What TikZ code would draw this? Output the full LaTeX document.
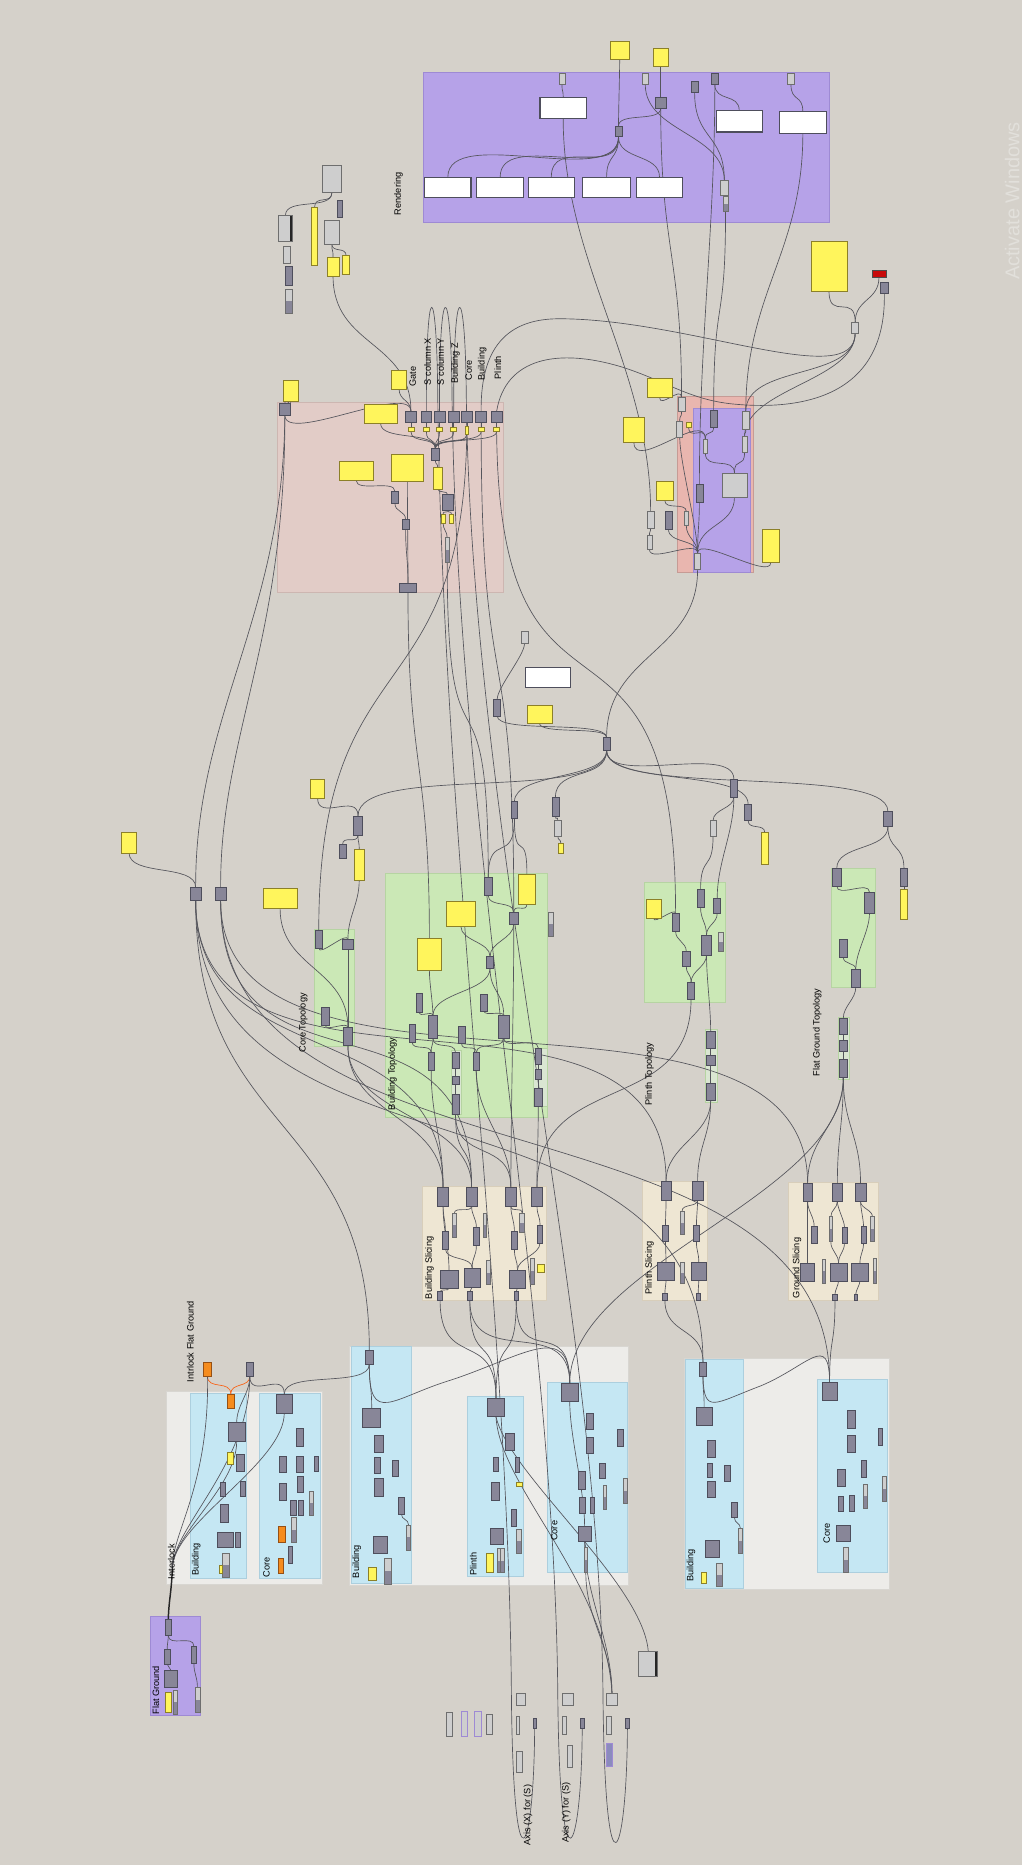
\documentclass[tikz,border=0pt]{standalone}
\usepackage{fontspec}
\setmainfont{Liberation Sans}
\definecolor{bgc}{RGB}{213,209,202}
\definecolor{cpc}{RGB}{136,134,152}
\definecolor{cpd}{RGB}{78,78,92}
\definecolor{ltc}{RGB}{206,206,206}
\definecolor{ltd}{RGB}{110,110,110}
\definecolor{ylc}{RGB}{255,245,92}
\definecolor{yld}{RGB}{140,128,40}
\definecolor{ogc}{RGB}{245,140,30}
\definecolor{ogd}{RGB}{150,80,20}
\definecolor{rdc}{RGB}{200,10,10}
\definecolor{gpu}{RGB}{182,162,232}
\definecolor{gpud}{RGB}{158,138,212}
\definecolor{gpk}{RGB}{226,204,199}
\definecolor{gpkd}{RGB}{205,182,177}
\definecolor{gsa}{RGB}{233,182,175}
\definecolor{ggr}{RGB}{203,232,182}
\definecolor{ggrd}{RGB}{182,212,162}
\definecolor{gsub}{RGB}{218,230,210}
\definecolor{gtn}{RGB}{238,230,211}
\definecolor{gtnd}{RGB}{216,206,186}
\definecolor{gbl}{RGB}{197,231,243}
\definecolor{gbld}{RGB}{172,207,222}
\definecolor{gow}{RGB}{237,236,233}
\definecolor{gowd}{RGB}{216,214,209}
\definecolor{wrc}{RGB}{85,85,92}
\definecolor{wmk}{RGB}{226,224,219}
\definecolor{pbx}{RGB}{90,90,160}
\pgfdeclarelayer{bglayer}
\pgfdeclarelayer{wrlayer}
\pgfsetlayers{bglayer,wrlayer,main}
\newcommand\gbox[6]{\node[#1,minimum width={((#5)-(#3))*0.8923pt},minimum height={((#6)-(#4))*0.8923pt}] (#2) at ({((#3)+(#5))/2},{((#4)+(#6))/2}) {};}
\newcommand\gsld[5]{\node[lt,minimum width={((#4)-(#2))*0.8923pt},minimum height={((#5)-(#3))*0.8923pt},path picture={\fill[cpc] (path picture bounding box.south west) rectangle (path picture bounding box.east);}] (#1) at ({((#2)+(#4))/2},{((#3)+(#5))/2}) {};}
\newcommand\gw[3][25]{\draw[wire] (#2) .. controls +(0,#1) and +(0,-#1) .. (#3);}
\begin{document}
\begin{tikzpicture}[x=0.8923pt,y=-0.8923pt,
 gbase/.style={rectangle,inner sep=0pt,outer sep=0pt,line width=0.45pt},
 cp/.style={gbase,draw=cpd,fill=cpc},
 lt/.style={gbase,draw=ltd,fill=ltc},
 yl/.style={gbase,draw=yld,fill=ylc},
 og/.style={gbase,draw=ogd,fill=ogc},
 rdn/.style={gbase,draw=black!70,fill=rdc},
 wb/.style={gbase,draw=cpd,fill=white,line width=0.8pt},
 pu/.style={gbase,draw=gpud,fill=ltc,line width=0.7pt},
 pud/.style={gbase,draw=gpud,fill=pbx!70,line width=0.7pt},
 blk/.style={path picture={\fill[black!85] ([xshift=-2.2pt]path picture bounding box.north east) rectangle (path picture bounding box.south east);}},
 wire/.style={draw=wrc,line width=0.5pt},
 owire/.style={draw=ogc!70!red,line width=0.5pt},
 lbl/.style={rotate=90,font=\fontsize{6.9}{8}\selectfont,inner sep=0pt,text=black},
 lblw/.style={lbl,anchor=west}]
\useasboundingbox (0,0) rectangle (859,1568);
\begin{pgfonlayer}{bglayer}
\fill[bgc] (0,0) rectangle (859,1568);
\filldraw[fill=gpu,draw=gpud] (356,61) rectangle (697,187);
\filldraw[fill=gpk,draw=gpkd] (233,338) rectangle (423,498);
\filldraw[fill=gsa,draw=gsa!85!black] (569,333) rectangle (633,481);
\filldraw[fill=gpu,draw=gpud] (583,343) rectangle (631,481);
\filldraw[fill=ggr,draw=ggrd] (264,781) rectangle (298,880);
\filldraw[fill=ggr,draw=ggrd] (324,734) rectangle (460,939);
\filldraw[fill=gsub,draw=ggrd] (379,883) rectangle (388,937);
\filldraw[fill=gsub,draw=ggrd] (448,881) rectangle (460,930);
\filldraw[fill=ggr,draw=ggrd] (542,742) rectangle (610,843);
\filldraw[fill=gsub,draw=ggrd] (593,865) rectangle (603,927);
\filldraw[fill=ggr,draw=ggrd] (699,730) rectangle (736,830);
\filldraw[fill=gsub,draw=ggrd] (705,855) rectangle (714,907);
\filldraw[fill=gtn,draw=gtnd] (355,997) rectangle (459,1093);
\filldraw[fill=gtn,draw=gtnd] (540,993) rectangle (595,1093);
\filldraw[fill=gtn,draw=gtnd] (663,994) rectangle (738,1093);
\filldraw[fill=gow,draw=gowd] (140,1170) rectangle (271,1332);
\filldraw[fill=gbl,draw=gbld] (160,1171) rectangle (207,1327);
\filldraw[fill=gbl,draw=gbld] (218,1171) rectangle (269,1327);
\filldraw[fill=gow,draw=gowd] (294,1132) rectangle (528,1333);
\filldraw[fill=gbl,draw=gbld] (295,1132) rectangle (346,1331);
\filldraw[fill=gbl,draw=gbld] (393,1174) rectangle (440,1325);
\filldraw[fill=gbl,draw=gbld] (460,1162) rectangle (527,1322);
\filldraw[fill=gow,draw=gowd] (575,1142) rectangle (748,1336);
\filldraw[fill=gbl,draw=gbld] (576,1143) rectangle (625,1335);
\filldraw[fill=gbl,draw=gbld] (687,1160) rectangle (746,1322);
\filldraw[fill=gpu,draw=gpud] (126,1359) rectangle (168,1442);
\end{pgfonlayer}
% ---------- Rendering
\gbox{wb}{R1}{357}{149}{396}{166}
\gbox{wb}{R2}{401}{149}{440}{166}
\gbox{wb}{R3}{444}{149}{483}{166}
\gbox{wb}{R4}{490}{149}{530}{166}
\gbox{wb}{R5}{535}{149}{574}{166}
\gbox{wb}{R6}{454}{82}{493}{100}
\gbox{wb}{R7}{602}{93}{641}{111}
\gbox{wb}{R8}{655}{94}{695}{112}
\gbox{lt}{ra}{470}{62}{475}{71}
\gbox{lt}{rb}{540}{62}{545}{71}
\gbox{cp}{rc}{581}{68}{587}{78}
\gbox{cp}{rd}{598}{62}{604}{71}
\gbox{lt}{re}{662}{62}{668}{71}
\gbox{cp}{rf}{551}{82}{560}{91}
\gbox{cp}{rg}{517}{106}{523}{115}
\gbox{lt}{rh}{606}{152}{612}{164}
\gsld{ri}{608}{165}{612}{178}
\gbox{yl}{Y1}{513}{35}{529}{50}
\gbox{yl}{Y2}{549}{41}{562}{56}
% ---------- top-left cluster
\gbox{lt}{t1}{271}{139}{287}{162}
\gbox{cp}{t2}{284}{168}{288}{183}
\gbox{lt,blk}{t3}{234}{181}{246}{203}
\gbox{lt}{t4}{238}{207}{244}{221}
\gbox{cp}{t5}{240}{224}{246}{240}
\gsld{t6}{240}{243}{246}{263}
\gbox{yl}{t7}{262}{174}{267}{223}
\gbox{lt}{t8}{273}{185}{285}{205}
\gbox{yl}{tY1}{275}{216}{285}{232}
\gbox{yl}{tY2}{288}{215}{294}{231}
% ---------- pink group
\gbox{yl}{pY0}{238}{320}{251}{337}
\gbox{cp}{p0}{235}{339}{244}{349}
\gbox{yl}{pY1}{306}{340}{334}{356}
\gbox{yl}{pY2}{329}{311}{342}{327}
\gbox{cp}{pg}{341}{346}{350}{355}
\gbox{cp}{psx}{354}{346}{363}{355}
\gbox{cp}{psy}{365}{346}{374}{355}
\gbox{cp}{pbz}{377}{346}{386}{355}
\gbox{cp}{pco}{388}{346}{397}{355}
\gbox{cp}{pbu}{400}{346}{409}{355}
\gbox{cp}{ppl}{413}{346}{422}{355}
\gbox{yl}{pgy}{343}{359}{348}{363}
\gbox{yl}{psxy}{356}{359}{361}{363}
\gbox{yl}{psyy}{367}{359}{372}{363}
\gbox{yl}{pbzy}{379}{359}{384}{363}
\gbox{yl}{pcoy}{391}{358}{394}{365}
\gbox{yl}{pbuy}{402}{359}{407}{363}
\gbox{yl}{pply}{415}{359}{420}{363}
\gbox{cp}{pm}{363}{377}{369}{387}
\gbox{yl}{pY3}{364}{393}{372}{411}
\gbox{yl}{pY4}{329}{382}{356}{405}
\gbox{yl}{pY5}{285}{388}{314}{404}
\gbox{cp}{pa}{329}{413}{335}{423}
\gbox{cp}{pb}{338}{437}{344}{445}
\gbox{cp}{pc}{336}{490}{350}{498}
\gbox{cp}{pd}{372}{416}{381}{429}
\gbox{yl}{pe1}{371}{432}{374}{440}
\gbox{yl}{pe2}{378}{432}{381}{440}
\gsld{pf}{374}{452}{378}{473}
% ---------- right pink/purple group
\gbox{yl}{qY1}{682}{203}{712}{245}
\gbox{rdn}{qR}{733}{227}{745}{233}
\gbox{cp}{qD}{740}{237}{747}{247}
\gbox{lt}{qL}{716}{271}{722}{280}
\gbox{yl}{qY2}{544}{318}{565}{334}
\gbox{lt}{q1}{570}{334}{576}{346}
\gbox{lt}{q2}{569}{354}{574}{368}
\gbox{yl}{q3}{577}{355}{581}{359}
\gbox{cp}{q4}{597}{345}{603}{359}
\gbox{lt}{q5}{624}{346}{630}{361}
\gbox{lt}{q6}{591}{369}{595}{381}
\gbox{lt}{q7}{624}{367}{628}{380}
\gbox{lt}{q8}{607}{398}{628}{418}
\gbox{yl}{qY3}{524}{351}{542}{372}
\gbox{yl}{qY4}{552}{405}{566}{421}
\gbox{cp}{q9}{585}{407}{591}{422}
\gbox{lt}{q10}{544}{430}{550}{444}
\gbox{cp}{q11}{559}{430}{565}{445}
\gbox{lt}{q12}{575}{430}{579}{442}
\gbox{lt}{q13}{544}{450}{548}{462}
\gbox{lt}{q14}{584}{465}{589}{479}
\gbox{yl}{qY5}{641}{445}{655}{473}
% ---------- middle
\gbox{lt}{m1}{438}{531}{444}{541}
\gbox{wb}{m2}{442}{561}{480}{578}
\gbox{yl}{m3}{443}{593}{464}{608}
\gbox{cp}{m4}{415}{588}{421}{602}
\gbox{cp}{H}{507}{620}{513}{631}
\gbox{cp}{m5}{614}{655}{620}{670}
\gbox{cp}{m6}{464}{670}{470}{686}
\gbox{lt}{m7}{466}{690}{472}{703}
\gbox{yl}{m8}{469}{709}{474}{717}
\gbox{cp}{m9}{430}{674}{435}{688}
\gbox{lt}{m10}{597}{690}{602}{703}
\gbox{cp}{m11}{626}{676}{632}{690}
\gbox{yl}{m12}{640}{700}{646}{727}
\gbox{cp}{m13}{743}{682}{750}{695}
\gbox{cp}{m14}{757}{730}{763}{745}
\gbox{yl}{m15}{757}{748}{763}{773}
\gbox{yl}{m16}{261}{655}{273}{671}
\gbox{cp}{m17}{297}{686}{305}{702}
\gbox{cp}{m18}{285}{710}{291}{722}
\gbox{yl}{m19}{298}{714}{306}{740}
\gbox{yl}{m20}{102}{700}{115}{717}
\gbox{cp}{N1}{160}{746}{169}{757}
\gbox{cp}{N2}{181}{746}{190}{757}
\gbox{yl}{m21}{221}{747}{250}{764}
% ---------- core topology
\gbox{cp}{ct1}{265}{782}{271}{797}
\gbox{cp}{ct2}{288}{790}{297}{798}
\gbox{cp}{ct3}{270}{847}{277}{862}
\gbox{cp}{ct4}{289}{864}{296}{879}
% ---------- building topology
\gbox{yl}{btY1}{351}{789}{371}{816}
\gbox{yl}{btY2}{375}{758}{400}{779}
\gbox{yl}{btY3}{436}{735}{450}{760}
\gbox{cp}{bt1}{407}{738}{414}{753}
\gbox{cp}{bt2}{428}{767}{436}{777}
\gbox{cp}{bt3}{409}{804}{415}{814}
\gbox{cp}{bt4}{350}{835}{355}{851}
\gbox{cp}{bt5}{360}{854}{368}{873}
\gbox{cp}{bt6}{344}{861}{349}{876}
\gbox{cp}{bt7}{404}{836}{410}{850}
\gbox{cp}{bt8}{419}{854}{428}{873}
\gbox{cp}{bt9}{385}{863}{391}{877}
\gbox{cp}{bt10}{360}{885}{365}{900}
\gbox{cp}{bt11}{398}{885}{403}{900}
\gbox{cp}{bt12}{380}{885}{386}{898}
\gbox{cp}{bt13}{380}{905}{386}{912}
\gbox{cp}{bt14}{380}{920}{386}{937}
\gbox{cp}{bt15}{450}{881}{455}{895}
\gbox{cp}{bt16}{450}{899}{455}{907}
\gbox{cp}{bt17}{449}{915}{456}{930}
\gsld{bt18}{461}{767}{465}{787}
% ---------- plinth topology
\gbox{yl}{plY}{543}{756}{556}{772}
\gbox{cp}{pl1}{565}{768}{571}{783}
\gbox{cp}{pl2}{586}{748}{592}{763}
\gbox{cp}{pl3}{600}{755}{606}{768}
\gbox{cp}{pl4}{590}{786}{598}{803}
\gbox{cp}{pl5}{574}{800}{580}{812}
\gsld{pl6}{604}{784}{608}{800}
\gbox{cp}{pl7}{578}{826}{584}{840}
\gbox{cp}{pl8}{594}{867}{601}{881}
\gbox{cp}{pl9}{594}{887}{601}{896}
\gbox{cp}{pl10}{594}{911}{601}{925}
% ---------- flat ground topology
\gbox{cp}{fg1}{700}{730}{707}{745}
\gbox{cp}{fg2}{727}{750}{735}{768}
\gbox{cp}{fg3}{706}{790}{712}{805}
\gbox{cp}{fg4}{716}{815}{723}{830}
\gbox{cp}{fg5}{706}{856}{712}{870}
\gbox{cp}{fg6}{706}{875}{712}{884}
\gbox{cp}{fg7}{706}{891}{712}{906}
% ---------- building slicing
\gbox{cp}{bs1}{368}{998}{377}{1014}
\gbox{cp}{bs2}{392}{998}{401}{1014}
\gbox{cp}{bs3}{425}{998}{434}{1014}
\gbox{cp}{bs4}{447}{998}{456}{1014}
\gsld{bs5}{380}{1020}{384}{1040}
\gbox{cp}{bs6}{372}{1035}{377}{1050}
\gbox{cp}{bs7}{398}{1032}{403}{1047}
\gsld{bs8}{406}{1020}{409}{1040}
\gsld{bs9}{437}{1020}{441}{1036}
\gbox{cp}{bs10}{430}{1035}{435}{1050}
\gbox{cp}{bs11}{452}{1030}{456}{1045}
\gbox{cp}{bs12}{370}{1068}{385}{1083}
\gbox{cp}{bs13}{390}{1066}{404}{1082}
\gbox{cp}{bs14}{428}{1068}{442}{1083}
\gbox{cp}{bs15}{368}{1086}{372}{1093}
\gbox{cp}{bs16}{393}{1086}{397}{1093}
\gbox{cp}{bs17}{432}{1086}{436}{1093}
\gbox{yl}{bs18}{452}{1063}{458}{1070}
\gsld{bs19}{409}{1060}{412}{1080}
\gsld{bs20}{446}{1058}{449}{1080}
% ---------- plinth slicing
\gbox{cp}{PS1}{556}{993}{564}{1009}
\gbox{cp}{PS2}{582}{993}{591}{1009}
\gsld{ps3}{572}{1018}{575}{1038}
\gbox{cp}{ps4}{557}{1030}{562}{1044}
\gbox{cp}{ps5}{583}{1030}{588}{1044}
\gbox{cp}{ps6}{553}{1061}{567}{1076}
\gbox{cp}{ps7}{581}{1061}{594}{1076}
\gsld{ps8}{572}{1061}{575}{1079}
\gbox{cp}{ps9}{557}{1087}{561}{1093}
\gbox{cp}{ps10}{585}{1087}{589}{1093}
% ---------- ground slicing
\gbox{cp}{GS1}{675}{995}{683}{1010}
\gbox{cp}{GS2}{700}{995}{708}{1010}
\gbox{cp}{GS3}{719}{995}{728}{1010}
\gbox{cp}{gs4}{682}{1031}{687}{1045}
\gsld{gs5}{697}{1023}{700}{1044}
\gbox{cp}{gs6}{708}{1032}{712}{1045}
\gbox{cp}{gs7}{724}{1031}{728}{1045}
\gsld{gs8}{732}{1023}{735}{1044}
\gbox{cp}{gs9}{673}{1062}{685}{1077}
\gbox{cp}{gs10}{698}{1062}{712}{1077}
\gbox{cp}{gs11}{716}{1062}{730}{1077}
\gsld{gs12}{691}{1059}{694}{1079}
\gsld{gs13}{734}{1058}{737}{1079}
\gbox{cp}{gs14}{700}{1088}{704}{1093}
\gbox{cp}{gs15}{718}{1088}{721}{1093}
% ---------- interlock flat ground
\gbox{og}{i1}{171}{1145}{178}{1157}
\gbox{cp}{i2}{207}{1145}{213}{1157}
\gbox{og}{i3}{191}{1172}{197}{1184}
\gbox{cp}{i4}{192}{1196}{206}{1212}
\gbox{cp}{i5}{232}{1172}{246}{1188}
\gbox{yl}{i6}{191}{1221}{196}{1231}
\gbox{cp}{i7}{199}{1223}{205}{1237}
\gbox{cp}{i8}{185}{1246}{189}{1258}
\gbox{cp}{i9}{202}{1245}{206}{1258}
\gbox{cp}{i10}{185}{1265}{192}{1280}
\gbox{cp}{i11}{183}{1288}{196}{1301}
\gbox{cp}{i12}{198}{1288}{202}{1301}
\gsld{i13}{187}{1306}{193}{1326}
\gbox{yl}{i14}{184}{1316}{187}{1323}
\gbox{cp}{i15}{249}{1201}{255}{1216}
\gbox{cp}{i16}{235}{1224}{241}{1238}
\gbox{cp}{i17}{249}{1224}{255}{1238}
\gbox{cp}{i18}{264}{1224}{268}{1237}
\gbox{cp}{i19}{235}{1247}{241}{1261}
\gbox{cp}{i20}{250}{1241}{255}{1255}
\gbox{cp}{i21}{244}{1261}{249}{1274}
\gbox{cp}{i22}{251}{1261}{255}{1274}
\gsld{i23}{260}{1254}{263}{1274}
\gsld{i24}{245}{1276}{249}{1297}
\gbox{og}{i25}{234}{1283}{240}{1297}
\gbox{cp}{i26}{242}{1300}{246}{1314}
\gbox{og}{i27}{234}{1310}{238}{1323}
% ---------- flat ground
\gbox{cp}{f1}{139}{1361}{144}{1375}
\gbox{cp}{f2}{138}{1387}{143}{1399}
\gbox{cp}{f3}{138}{1404}{149}{1419}
\gbox{yl}{f4}{139}{1423}{144}{1440}
\gsld{f5}{146}{1421}{149}{1441}
\gbox{cp}{f6}{161}{1384}{165}{1398}
\gsld{f7}{164}{1419}{168}{1440}
% ---------- middle group 1
\gbox{cp}{b1}{307}{1135}{314}{1147}
\gbox{cp}{b2}{305}{1184}{320}{1200}
\gbox{cp}{b3}{315}{1207}{322}{1221}
\gbox{cp}{b4}{315}{1225}{320}{1239}
\gbox{cp}{b5}{330}{1228}{335}{1241}
\gbox{cp}{b6}{315}{1243}{322}{1258}
\gbox{cp}{b7}{335}{1259}{340}{1273}
\gsld{b8}{342}{1282}{345}{1303}
\gbox{cp}{b9}{314}{1292}{326}{1306}
\gsld{b10}{323}{1310}{329}{1332}
\gbox{yl}{b11}{310}{1318}{316}{1329}
\gbox{cp}{c1}{410}{1176}{424}{1191}
\gbox{cp}{c2}{425}{1205}{432}{1219}
\gbox{cp}{c3}{415}{1225}{419}{1237}
\gbox{cp}{c4}{433}{1225}{437}{1238}
\gbox{yl}{c5}{434}{1246}{439}{1250}
\gbox{cp}{c6}{413}{1246}{420}{1261}
\gbox{cp}{c7}{430}{1269}{434}{1283}
\gbox{cp}{c8}{412}{1285}{423}{1298}
\gsld{c9}{434}{1286}{438}{1306}
\gbox{yl}{c10}{409}{1306}{415}{1322}
\gsld{c11}{418}{1302}{421}{1322}
\gsld{c12}{421}{1302}{424}{1322}
\gbox{cp}{d1}{472}{1163}{486}{1178}
\gbox{cp}{d2}{493}{1188}{499}{1202}
\gbox{cp}{d3}{493}{1208}{499}{1222}
\gbox{cp}{d4}{519}{1202}{524}{1216}
\gbox{cp}{d5}{486}{1237}{492}{1252}
\gbox{cp}{d6}{504}{1230}{509}{1243}
\gsld{d7}{507}{1249}{510}{1269}
\gbox{cp}{d8}{487}{1259}{492}{1272}
\gbox{cp}{d9}{496}{1259}{500}{1272}
\gsld{d10}{524}{1243}{527}{1264}
\gbox{cp}{d11}{486}{1283}{497}{1296}
\gsld{d12}{491}{1301}{494}{1322}
% ---------- middle group 2
\gbox{cp}{g2b1}{588}{1145}{594}{1157}
\gbox{cp}{g2b2}{585}{1183}{599}{1198}
\gbox{cp}{g2b3}{595}{1211}{601}{1225}
\gbox{cp}{g2b4}{595}{1230}{599}{1242}
\gbox{cp}{g2b5}{609}{1232}{614}{1245}
\gbox{cp}{g2b6}{595}{1245}{601}{1259}
\gbox{cp}{g2b7}{615}{1263}{620}{1276}
\gsld{g2b8}{621}{1285}{624}{1306}
\gbox{cp}{g2b9}{593}{1295}{605}{1309}
\gsld{g2b10}{602}{1314}{607}{1334}
\gbox{yl}{g2b11}{590}{1322}{594}{1331}
\gbox{cp}{g2d1}{691}{1162}{704}{1177}
\gbox{cp}{g2d2}{712}{1186}{719}{1201}
\gbox{cp}{g2d3}{712}{1207}{719}{1221}
\gbox{cp}{g2d4}{738}{1201}{742}{1215}
\gbox{cp}{g2d5}{704}{1235}{711}{1250}
\gbox{cp}{g2d6}{724}{1228}{728}{1242}
\gsld{g2d7}{726}{1248}{729}{1268}
\gbox{cp}{g2d8}{705}{1258}{709}{1271}
\gbox{cp}{g2d9}{714}{1257}{718}{1271}
\gsld{g2d10}{742}{1241}{745}{1262}
\gbox{cp}{g2d11}{703}{1282}{715}{1296}
\gsld{g2d12}{709}{1301}{713}{1322}
% ---------- axis area
\gbox{lt}{a1}{434}{1424}{442}{1434}
\gbox{lt}{a2}{473}{1424}{482}{1434}
\gbox{lt}{a3}{510}{1424}{519}{1434}
\gbox{lt}{a4}{434}{1443}{437}{1458}
\gbox{lt}{a5}{473}{1443}{476}{1458}
\gbox{lt}{a6}{510}{1443}{514}{1458}
\gbox{cp}{a7}{448}{1445}{451}{1453}
\gbox{cp}{a8}{488}{1445}{491}{1453}
\gbox{cp}{a9}{526}{1445}{529}{1453}
\gbox{lt}{a10}{434}{1472}{439}{1490}
\gbox{lt}{a11}{477}{1467}{481}{1486}
\gbox{pud}{a12}{510}{1466}{515}{1485}
\gbox{lt}{a13}{375}{1440}{380}{1460}
\gbox{pu}{a14}{388}{1439}{393}{1460}
\gbox{pu}{a15}{399}{1439}{405}{1460}
\gbox{lt}{a16}{409}{1441}{414}{1458}
\gbox{lt,blk}{a17}{537}{1388}{553}{1409}
\coordinate (il) at (145,1318);
% ---------- labels
\node[lbl] (L1) at (335,163) {Rendering};
\node[lblw] (L2) at (347,325) {Gate};
\node[lblw] (L3) at (359.5,324) {S column X};
\node[lblw] (L4) at (370.5,324) {S column Y};
\node[lblw] (L5) at (383,323) {Building Z};
\node[lblw] (L6) at (394,320) {Core};
\node[lblw] (L7) at (405.5,320) {Building};
\node[lblw] (L8) at (418.5,319) {Plinth};
\node[lbl] (L9) at (255,860) {Core Topology};
\node[lbl] (L10) at (330,903) {Building Topology};
\node[lbl] (L11) at (546,903) {Plinth Topology};
\node[lbl] (L12) at (687,868) {Flat Ground Topology};
\node[lbl] (L13) at (361,1066) {Building Slicing};
\node[lbl] (L14) at (546,1066) {Plinth Slicing};
\node[lbl] (L15) at (670,1066) {Ground Slicing};
\node[lbl] (L16) at (160,1128) {Intrlock Flat Ground};
\node[lbl] (L17) at (144,1313) {Interlock};
\node[lbl] (L18) at (165,1311) {Building};
\node[lbl] (L19) at (224,1318) {Core};
\node[lbl] (L20) at (300,1313) {Building};
\node[lbl] (L21) at (398,1315) {Plinth};
\node[lbl] (L22) at (466,1287) {Core};
\node[lbl] (L23) at (581,1316) {Building};
\node[lbl] (L24) at (695,1289) {Core};
\node[lbl] (L25) at (131,1421) {Flat Ground};
\node[lbl] (L26) at (444,1526) {Axis (X) for (S)};
\node[lbl] (L27) at (476,1524) {Axis (Y) for (S)};
\node[rotate=90,font=\fontsize{15}{18}\selectfont,text=wmk,inner sep=0pt] (WM) at (851,169) {Activate Windows};
% ---------- wires
\begin{pgfonlayer}{wrlayer}
% rendering
\gw[12]{Y1.south}{rg.north}
\gw[10]{Y2.south}{rf.north}
\gw[12]{rf.south}{rg.north}
\gw[45]{rg.south}{R1.north}
\gw[40]{rg.south}{R2.north}
\gw[35]{rg.south}{R3.north}
\gw[20]{rg.south}{R4.north}
\gw[20]{rg.south}{R5.north}
\gw[8]{ra.south}{R6.north}
\gw[40]{rb.south}{rh.north}
\gw[40]{rc.south}{rh.north}
\gw[15]{rd.south}{R7.north}
\gw[15]{re.south}{R8.north}
\gw[3]{rh.south}{ri.north}
\gw[120]{R6.south}{q10.north}
\gw[120]{rf.south}{q1.north}
\gw[120]{rd.south}{q9.north}
\gw[100]{ri.south}{q4.north}
\gw[100]{R8.south}{q5.north}
% top-left
\gw[10]{t1.south}{t7.north}
\gw[15]{t1.south}{t3.north}
\gw[8]{t8.south}{tY1.north}
\gw[8]{t8.south}{tY2.north}
\gw[60]{tY1.south}{pg.north}
% right group
\gw[25]{qY1.south}{qL.north}
\gw[20]{qR.south}{qL.north}
\gw[40]{qL.south}{q5.north}
\gw[40]{qL.south}{q7.north}
\draw[wire] (qL.south) .. controls (719,330) and (580,268) .. (470,268) .. controls (420,268) and (404,300) .. (pbu.north);
\draw[wire] (qD.south) .. controls (745,330) and (680,345) .. (620,340) .. controls (580,337) and (560,320) .. (521,308) .. controls (470,293) and (425,300) .. (ppl.north);
\gw[10]{qY2.south}{q1.north}
\gw[6]{q1.south}{q2.north}
\gw[20]{q2.south}{q14.north}
\gw[12]{q3.south}{q6.north}
\gw[25]{qY3.south}{q6.north}
\gw[8]{q4.south}{q6.north}
\gw[15]{q6.south}{q8.north}
\gw[6]{q5.south}{q7.north}
\gw[15]{q7.south}{q8.north}
\gw[25]{q8.south}{q14.north}
\gw[8]{qY4.south}{q12.north}
\gw[10]{q12.south}{q14.north}
\gw[12]{q11.south}{q14.north}
\gw[4]{q10.south}{q13.north}
\gw[12]{q13.south}{q14.north}
\gw[20]{q9.south}{q14.north}
\gw[15]{qY5.south}{q14.north}
\gw[70]{q14.south}{H.north}
% middle
\gw[10]{m1.south}{m4.north}
\gw[15]{m4.south}{H.north}
\gw[10]{m3.south}{H.north}
\gw[30]{H.south}{m5.north}
\gw[30]{H.south}{m11.north}
\gw[40]{H.south}{m13.north}
\gw[25]{H.south}{m6.north}
\gw[25]{H.south}{m9.north}
\gw[45]{H.south}{m17.north}
\gw[10]{m5.south}{m10.north}
\gw[5]{m6.south}{m7.north}
\gw[4]{m7.south}{m8.north}
\gw[8]{m11.south}{m12.north}
\gw[20]{m13.south}{m14.north}
\gw[3]{m14.south}{m15.north}
\gw[20]{m13.south}{fg1.north}
\gw[8]{m17.south}{m18.north}
\gw[8]{m17.south}{m19.north}
\gw[20]{m16.south}{m17.north}
\gw[20]{m20.south}{N1.north}
\gw[30]{m10.south}{pl2.north}
\gw[30]{m5.south}{pl3.north}
\gw[40]{m9.south}{btY3.north}
\gw[40]{m9.south}{bt1.north}
% pink
\gw[8]{pY0.south}{p0.north}
\gw[10]{pY2.south}{pg.north}
\gw[25]{p0.south}{pg.north}
\gw[2]{pg.south}{pgy.north}
\gw[2]{psx.south}{psxy.north}
\gw[2]{psy.south}{psyy.north}
\gw[2]{pbz.south}{pbzy.north}
\gw[2]{pco.south}{pcoy.north}
\gw[2]{pbu.south}{pbuy.north}
\gw[2]{ppl.south}{pply.north}
\gw[10]{pgy.south}{pm.north}
\gw[10]{psxy.south}{pm.north}
\gw[10]{psyy.south}{pm.north}
\gw[10]{pbzy.south}{pm.north}
\gw[10]{pcoy.south}{pm.north}
\gw[10]{pbuy.south}{pm.north}
\gw[10]{pply.south}{pm.north}
\gw[15]{pY1.south}{pm.north}
\gw[4]{pm.south}{pY3.north}
\gw[4]{pY3.south}{pd.north}
\gw[3]{pd.south}{pe1.north}
\gw[3]{pd.south}{pe2.north}
\gw[5]{pe1.south}{pf.north}
\gw[10]{pY5.south}{pa.north}
\gw[8]{pa.south}{pb.north}
\gw[30]{pY4.south}{pc.north}
\gw[20]{pb.south}{pc.north}
\draw[wire] (p0.south) .. controls (238,520) and (164,600) .. (N1.north);
\draw[wire] (p0.south) .. controls (240,540) and (185,620) .. (N2.north);
\gw[200]{pf.south}{bt1.north}
\gw[150]{pc.south}{btY1.north}
\gw[250]{pco.south}{ct1.north}
\gw[250]{pbu.south}{bt2.north}
\gw[300]{ppl.south}{pl1.north}
% axis loops
\draw[wire] (psx.north) .. controls (358,232) and (367,232) .. (368,330) .. controls (372,700) and (428,1100) .. (430,1430) .. controls (432,1600) and (449,1560) .. (a7.south);
\draw[wire] (psy.north) .. controls (369,232) and (379,232) .. (380,330) .. controls (384,700) and (467,1100) .. (469,1430) .. controls (471,1600) and (489,1560) .. (a8.south);
\draw[wire] (pbz.north) .. controls (381,232) and (391,232) .. (392,330) .. controls (396,700) and (505,1100) .. (507,1430) .. controls (509,1605) and (527,1565) .. (a9.south);
% building topology
\gw[10]{bt1.south}{bt2.north}
\gw[8]{btY3.south}{bt2.north}
\gw[12]{bt2.south}{bt3.north}
\gw[12]{btY2.south}{bt3.north}
\gw[20]{bt3.south}{bt5.north}
\gw[20]{bt3.south}{bt8.north}
\gw[10]{btY1.south}{bt5.north}
\gw[5]{bt4.south}{bt5.north}
\gw[5]{bt7.south}{bt8.north}
\gw[8]{bt6.south}{bt10.north}
\gw[8]{bt5.south}{bt10.north}
\gw[10]{bt5.south}{bt12.north}
\gw[8]{bt9.south}{bt11.north}
\gw[10]{bt8.south}{bt11.north}
\gw[10]{bt8.south}{bt15.north}
\gw[3]{bt12.south}{bt13.north}
\gw[3]{bt13.south}{bt14.north}
\gw[3]{bt15.south}{bt16.north}
\gw[3]{bt16.south}{bt17.north}
\gw[60]{bt2.south}{bs3.north}
% core topology
\gw[8]{ct1.south}{ct2.north}
\gw[20]{ct2.south}{ct4.north}
\gw[6]{ct3.south}{ct4.north}
\gw[50]{m21.south}{ct4.north}
\gw[20]{m19.south}{ct2.north}
\gw[60]{ct4.south}{bs1.north}
\gw[60]{ct4.south}{bs2.north}
% topology to slicing
\gw[40]{bt10.south}{bs1.north}
\gw[40]{bt14.south}{bs2.north}
\gw[40]{bt11.south}{bs3.north}
\gw[40]{bt17.south}{bs4.north}
\gw[40]{bt14.south}{bs3.north}
\gw[150]{N1.south}{bs1.north}
\gw[200]{N1.south}{PS1.north}
\gw[200]{N2.south}{GS1.north}
\gw[180]{N2.south}{bs2.north}
\gw[250]{N1.south}{g2b1.north}
\gw[250]{N2.south}{g2d1.north}
\gw[200]{N1.south}{b1.north}
% plinth topology
\gw[6]{plY.south}{pl1.north}
\gw[10]{pl2.south}{pl4.north}
\gw[8]{pl3.south}{pl4.north}
\gw[8]{pl1.south}{pl5.north}
\gw[10]{pl4.south}{pl7.north}
\gw[8]{pl5.south}{pl7.north}
\gw[20]{pl4.south}{pl8.north}
\gw[3]{pl8.south}{pl9.north}
\gw[3]{pl9.south}{pl10.north}
\gw[30]{pl10.south}{PS1.north}
\gw[30]{pl10.south}{PS2.north}
\gw[100]{pl7.south}{bs4.north}
% flat ground topology
\gw[10]{fg1.south}{fg2.north}
\gw[15]{fg2.south}{fg4.north}
\gw[6]{fg3.south}{fg4.north}
\gw[10]{fg4.south}{fg5.north}
\gw[3]{fg5.south}{fg6.north}
\gw[3]{fg6.south}{fg7.north}
\gw[40]{fg7.south}{GS1.north}
\gw[40]{fg7.south}{GS2.north}
\gw[40]{fg7.south}{GS3.north}
\gw[100]{fg7.south}{d1.north}
% slicing internals
\gw[8]{bs1.south}{bs6.north}
\gw[20]{bs1.south}{bs12.north}
\gw[8]{bs2.south}{bs7.north}
\gw[6]{bs2.south}{bs5.north}
\gw[8]{bs3.south}{bs10.north}
\gw[6]{bs3.south}{bs9.north}
\gw[8]{bs4.south}{bs11.north}
\gw[10]{bs6.south}{bs13.north}
\gw[10]{bs7.south}{bs13.north}
\gw[10]{bs10.south}{bs14.north}
\gw[10]{bs11.south}{bs14.north}
\gw[3]{bs12.south}{bs15.north}
\gw[3]{bs13.south}{bs16.north}
\gw[3]{bs14.south}{bs17.north}
\gw[6]{PS1.south}{ps4.north}
\gw[6]{PS2.south}{ps5.north}
\gw[6]{PS2.south}{ps3.north}
\gw[8]{ps4.south}{ps6.north}
\gw[8]{ps5.south}{ps7.north}
\gw[3]{ps6.south}{ps9.north}
\gw[3]{ps7.south}{ps10.north}
\gw[8]{GS1.south}{gs4.north}
\gw[20]{GS1.south}{gs9.north}
\gw[6]{GS2.south}{gs5.north}
\gw[6]{GS2.south}{gs6.north}
\gw[6]{GS3.south}{gs7.north}
\gw[6]{GS3.south}{gs8.north}
\gw[8]{gs5.south}{gs10.north}
\gw[8]{gs6.south}{gs10.north}
\gw[8]{gs7.south}{gs11.north}
\gw[3]{gs10.south}{gs14.north}
\gw[3]{gs11.south}{gs15.north}
% slicing to groups below
\gw[60]{bs15.south}{c1.north}
\gw[60]{bs16.south}{c1.north}
\gw[60]{bs17.south}{c1.north}
\gw[60]{bs17.south}{d1.north}
\gw[60]{bs16.south}{d1.north}
\gw[30]{ps9.south}{g2b1.north}
\gw[40]{gs14.south}{g2d1.north}
% interlock
\draw[owire] (i1.south) .. controls +(0,12) and +(0,-12) .. (i3.north);
\draw[owire] (i2.south) .. controls +(0,10) and +(0,-10) .. (i3.north);
\gw[15]{i2.south}{i4.north}
\gw[20]{i2.south}{i5.north}
\gw[20]{b1.south}{i5.north}
\draw[wire] (i1.south) .. controls (176,1250) and (144,1290) .. (il);
\draw[wire] (i2.south) .. controls (210,1230) and (145,1285) .. (il);
\draw[wire] (i4.south) .. controls (199,1250) and (145,1290) .. (il);
\draw[wire] (i5.south) .. controls (239,1230) and (146,1280) .. (il);
\draw[black!85,line width=1.1pt] (il) .. controls (144,1340) and (142,1345) .. (f1.north);
% flat ground
\gw[4]{f1.south}{f2.north}
\gw[10]{f1.south}{f6.north}
\gw[3]{f2.south}{f3.north}
\gw[10]{f6.south}{f7.north}
% middle group 1
\gw[20]{b1.south}{b2.north}
\draw[wire] (b1.south) .. controls (310,1200) and (330,1175) .. (380,1160) .. controls (440,1140) and (479,1110) .. (d1.north);
\gw[5]{b7.south}{b8.north}
\gw[30]{d1.south}{d11.north}
\gw[3]{d11.south}{d12.north}
\draw[wire] (c1.south) .. controls (420,1250) and (510,1330) .. (a3.north);
\draw[wire] (c1.south) .. controls (428,1240) and (540,1330) .. (a17.north);
\gw[40]{d12.south}{a3.north}
\gw[45]{d11.south}{a3.north}
% middle group 2
\gw[15]{g2b1.south}{g2b2.north}
\draw[wire] (g2b1.south) .. controls (592,1190) and (600,1180) .. (640,1165) .. controls (680,1148) and (697,1120) .. (g2d1.north);
\gw[5]{g2b7.south}{g2b8.north}
\end{pgfonlayer}
\end{tikzpicture}
\end{document}
